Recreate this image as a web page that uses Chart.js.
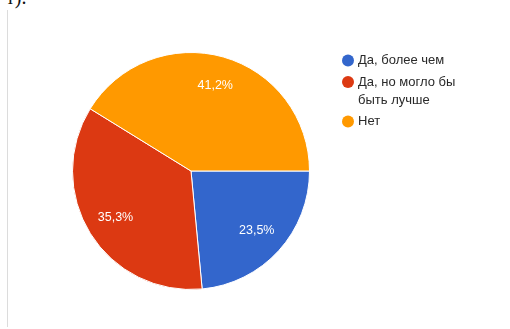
<!DOCTYPE html>
<html>
<head>
<meta charset="utf-8">
<script src="https://cdn.jsdelivr.net/npm/chart.js@4/dist/chart.umd.min.js"></script>
<style>
  html, body { margin: 0; padding: 0; background: #fff; }
  #wrap { position: relative; width: 510px; height: 329px; overflow: hidden; }
  #frame { position: absolute; left: 7px; top: 10px; width: 0; height: 317px; border-left: 1px solid #dcdcdc; }
  #head { position: absolute; left: 6px; top: -14px; font: 20px "Liberation Serif", serif; color: #111; }
  canvas { position: absolute; left: 0; top: 0; }
</style>
</head>
<body>
<div id="wrap">
  <div id="head">т).</div>
  <div id="frame"></div>
  <canvas id="c" width="510" height="329"></canvas>
</div>
<script>
// Survey answers and their shares (percent)
const answers = ['Да, более чем', 'Да, но могло бы быть лучше', 'Нет'];
const shares = [23.5, 35.3, 41.2];
const colors = ['#3366cc', '#dc3912', '#ff9900'];

const fmt = v => v.toFixed(1).replace('.', ',') + '%';

// Percent labels inside each slice
const sliceLabels = {
  id: 'sliceLabels',
  afterDatasetsDraw(chart) {
    const ctx = chart.ctx;
    const meta = chart.getDatasetMeta(0);
    ctx.save();
    ctx.font = '12.5px "Liberation Sans", Arial, sans-serif';
    ctx.fillStyle = '#ffffff';
    ctx.textAlign = 'center';
    ctx.textBaseline = 'middle';
    meta.data.forEach((arc, i) => {
      const p = arc.getProps(['x', 'y', 'startAngle', 'endAngle', 'outerRadius'], true);
      const mid = (p.startAngle + p.endAngle) / 2;
      const r = p.outerRadius * 0.75;
      ctx.fillText(fmt(shares[i]), p.x + Math.cos(mid) * r, p.y + Math.sin(mid) * r);
    });
    ctx.restore();
  }
};

// Legend on the right with word wrapping
const sideLegend = {
  id: 'sideLegend',
  afterDraw(chart) {
    const ctx = chart.ctx;
    const x0 = 348, textX = 358, maxW = 100, lineH = 18, gap = 21.5;
    let y = 60.5;
    ctx.save();
    ctx.font = '13px "Liberation Sans", Arial, sans-serif';
    ctx.textBaseline = 'middle';
    answers.forEach((label, i) => {
      ctx.fillStyle = colors[i];
      ctx.beginPath();
      ctx.arc(x0, y, 6, 0, Math.PI * 2);
      ctx.fill();
      const words = label.split(' ');
      const lines = [];
      let cur = '';
      words.forEach(w => {
        const t = cur ? cur + ' ' + w : w;
        if (ctx.measureText(t).width > maxW && cur) { lines.push(cur); cur = w; }
        else cur = t;
      });
      lines.push(cur);
      ctx.fillStyle = '#2a2a2a';
      lines.forEach((ln, k) => ctx.fillText(ln, textX, y + k * lineH));
      y += (lines.length - 1) * lineH + gap;
    });
    ctx.restore();
  }
};

new Chart(document.getElementById('c'), {
  type: 'pie',
  data: {
    labels: answers,
    datasets: [{
      data: shares,
      backgroundColor: colors,
      borderColor: '#ffffff',
      borderWidth: 1,
      hoverOffset: 0,
      offset: 0
    }]
  },
  options: {
    responsive: false,
    animation: false,
    devicePixelRatio: 1,
    rotation: 90,
    layout: { padding: { left: 72, right: 200, top: 52, bottom: 39 } },
    plugins: {
      legend: { display: false },
      tooltip: { enabled: false }
    }
  },
  plugins: [sliceLabels, sideLegend]
});
</script>
</body>
</html>
